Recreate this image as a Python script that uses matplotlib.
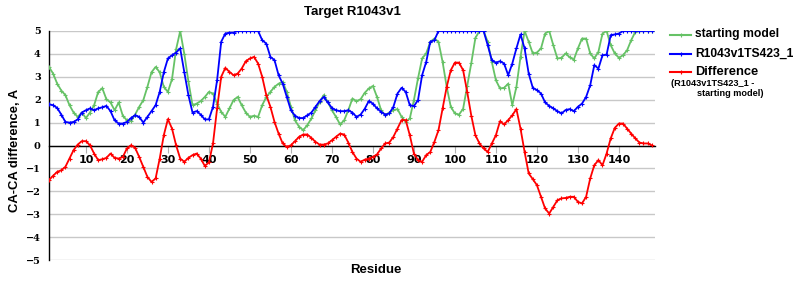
import numpy as np
import matplotlib
matplotlib.use("Agg")
import matplotlib.pyplot as plt
from matplotlib.lines import Line2D

residues = list(range(1, 149))

starting_model = [
    3.43, 3.14, 2.70, 2.40, 2.20, 1.76, 1.44, 1.25, 1.44, 1.20,
    1.44, 1.76, 2.34, 2.50, 2.02, 1.88, 1.54, 1.88, 1.30, 1.10,
    1.06, 1.35, 1.69, 1.98, 2.56, 3.20, 3.43, 3.20, 2.56, 2.34,
    2.90, 4.20, 5.00, 4.00, 2.80, 1.76, 1.83, 1.94, 2.12, 2.34,
    2.27, 1.83, 1.47, 1.25, 1.62, 1.98, 2.12, 1.76, 1.44, 1.25,
    1.30, 1.25, 1.76, 2.12, 2.34, 2.56, 2.70, 2.78, 2.34, 1.69,
    1.10, 0.82, 0.67, 0.89, 1.18, 1.54, 1.90, 2.20, 1.90, 1.54,
    1.25, 0.92, 1.10, 1.54, 2.05, 1.94, 2.02, 2.30, 2.49, 2.60,
    2.12, 1.54, 1.32, 1.44, 1.54, 1.59, 1.25, 1.03, 1.18, 1.98,
    2.93, 3.80, 4.02, 4.53, 4.67, 4.53, 3.65, 2.56, 1.69, 1.40,
    1.35, 1.60, 2.60, 3.60, 4.70, 5.00, 5.00, 4.53, 3.65, 2.85,
    2.49, 2.52, 2.70, 1.76, 2.56, 3.87, 5.00, 4.53, 4.02, 4.06,
    4.24, 4.89, 5.00, 4.38, 3.80, 3.83, 4.02, 3.85, 3.75, 4.24,
    4.67, 4.67, 4.02, 3.80, 4.09, 4.89, 5.00, 4.38, 4.02, 3.83,
    3.94, 4.16, 4.60, 4.96, 5.00, 5.00, 5.00, 5.00,
]

model_ts423 = [
    1.80, 1.76, 1.64, 1.35, 1.03, 1.00, 1.03, 1.14, 1.44, 1.54,
    1.62, 1.54, 1.62, 1.67, 1.73, 1.50, 1.10, 0.96, 0.96, 1.03,
    1.20, 1.32, 1.25, 1.00, 1.25, 1.50, 1.76, 2.34, 3.20, 3.80,
    3.94, 4.06, 4.24, 3.20, 2.20, 1.44, 1.50, 1.35, 1.14, 1.14,
    1.69, 2.85, 4.53, 4.89, 4.93, 4.93, 5.00, 5.00, 5.00, 5.00,
    5.00, 5.00, 4.60, 4.45, 3.87, 3.73, 3.07, 2.70, 2.12, 1.54,
    1.30, 1.20, 1.20, 1.32, 1.44, 1.69, 1.94, 2.12, 1.88, 1.64,
    1.54, 1.50, 1.50, 1.54, 1.44, 1.25, 1.35, 1.60, 1.94, 1.83,
    1.62, 1.47, 1.35, 1.40, 1.69, 2.27, 2.52, 2.34, 1.76, 1.72,
    1.98, 3.07, 3.65, 4.53, 4.60, 5.00, 5.00, 5.00, 5.00, 5.00,
    5.00, 5.00, 5.00, 5.00, 5.00, 5.00, 5.00, 4.38, 3.73, 3.62,
    3.68, 3.58, 3.07, 3.58, 4.24, 4.85, 4.24, 3.14, 2.52, 2.42,
    2.27, 1.88, 1.73, 1.62, 1.50, 1.40, 1.55, 1.59, 1.50, 1.69,
    1.83, 2.12, 2.63, 3.51, 3.36, 3.94, 3.97, 4.82, 4.85, 4.89,
    5.00, 5.00, 5.00, 5.00, 5.00, 5.00, 5.00, 5.00,
]

difference = [
    -1.51, -1.32, -1.15, -1.08, -0.93, -0.57, -0.20, 0.04, 0.19, 0.19,
    0.01, -0.35, -0.64, -0.60, -0.54, -0.35, -0.54, -0.57, -0.50, -0.13,
    0.01, -0.10, -0.50, -0.93, -1.37, -1.59, -1.44, -0.57, 0.45, 1.15,
    0.74, 0.01, -0.57, -0.71, -0.54, -0.42, -0.35, -0.57, -0.89, -0.74,
    0.09, 1.62, 3.00, 3.39, 3.22, 3.07, 3.14, 3.36, 3.68, 3.80,
    3.87, 3.58, 3.00, 2.20, 1.69, 1.03, 0.52, 0.09, -0.06, 0.01,
    0.19, 0.38, 0.48, 0.48, 0.33, 0.16, 0.04, 0.04, 0.09, 0.23,
    0.38, 0.52, 0.48, 0.13, -0.28, -0.57, -0.71, -0.62, -0.57, -0.50,
    -0.39, -0.13, 0.09, 0.13, 0.38, 0.74, 1.11, 1.11, 0.45, -0.35,
    -0.64, -0.71, -0.42, -0.28, 0.16, 0.67, 1.62, 2.56, 3.29, 3.62,
    3.62, 3.29, 2.34, 1.30, 0.45, 0.09, -0.13, -0.28, 0.09, 0.45,
    1.06, 0.92, 1.11, 1.32, 1.59, 0.74, -0.28, -1.22, -1.47, -1.73,
    -2.24, -2.75, -2.97, -2.68, -2.39, -2.31, -2.29, -2.24, -2.24, -2.46,
    -2.53, -2.24, -1.44, -0.86, -0.64, -0.86, -0.35, 0.31, 0.77, 0.96,
    0.96, 0.74, 0.52, 0.31, 0.13, 0.09, 0.09, 0.01,
]

x_ticks = [10, 20, 30, 40, 50, 60, 70, 80, 90, 100, 110, 120, 130, 140]
y_ticks = [-5, -4, -3, -2, -1, 0, 1, 2, 3, 4, 5]

GREEN = "#66c266"
BLUE = "#0000ff"
RED = "#ff0000"

W, H = 800, 300
fig = plt.figure(figsize=(8, 3), dpi=100)
ax = fig.add_axes([49 / W, 40 / H, 606 / W, 229 / H])

for yv in y_ticks:
    ax.axhline(yv, color="#c8c8c8", lw=1.0, zorder=0)

style = dict(lw=1.3, marker="+", ms=3, mew=0.8, zorder=3, clip_on=True)
ax.plot(residues, starting_model, color=GREEN, **style)
ax.plot(residues, model_ts423, color=BLUE, **style)
ax.plot(residues, difference, color=RED, **style)

ax.set_xlim(1, 1 + 606 / 4.1)
ax.set_ylim(-5, 5)

for s in ["top", "right"]:
    ax.spines[s].set_visible(False)
ax.spines["bottom"].set_position(("data", 0))
ax.spines["bottom"].set_color("black")
ax.spines["bottom"].set_linewidth(1.0)
ax.spines["left"].set_color("black")
ax.spines["left"].set_linewidth(1.0)

ax.set_xticks(x_ticks)
ax.set_xticklabels([str(t) for t in x_ticks], fontfamily="DejaVu Sans",
                   fontweight="bold", fontsize=8)
ax.tick_params(axis="x", direction="out", length=5, color="#b0b0b0", pad=2)

ax.set_yticks(y_ticks)
ax.set_yticklabels([("\u2212%d" % -t) if t < 0 else str(t) for t in y_ticks],
                   fontfamily="DejaVu Serif", fontweight="bold", fontsize=7)
ax.tick_params(axis="y", length=0, pad=6)

lab = dict(fontfamily="Liberation Sans", fontweight="bold")
fig.text(352 / W, 1 - 12 / H, "Target R1043v1", ha="center", va="center",
         fontsize=9.5, **lab)
fig.text(376 / W, 1 - 270 / H, "Residue", ha="center", va="center",
         fontsize=9.5, **lab)
fig.text(15 / W, 1 - 150 / H, "CA-CA difference, A", ha="center", va="center",
         rotation=90, fontsize=9.4, **lab)

# legend
entries = [(GREEN, 34.5, "starting model", 8.7),
           (BLUE, 54, "R1043v1TS423_1", 8.7),
           (RED, 72, "Difference", 9.3)]
for col, yp, txt, fs in entries:
    yy = 1 - yp / H
    fig.add_artist(Line2D([670 / W, 691 / W], [yy, yy], color=col, lw=1.5,
                          transform=fig.transFigure))
    fig.add_artist(Line2D([680.5 / W], [yy], color=col, marker="+", ms=3,
                          mew=0.8, transform=fig.transFigure))
    fig.text(695 / W, yy, txt, ha="left", va="center", fontsize=fs, **lab)
fig.text(671 / W, 1 - 84 / H, "(R1043v1TS423_1 -", ha="left", va="center",
         fontsize=6.6, **lab)
fig.text(697 / W, 1 - 94 / H, "starting model)", ha="left", va="center",
         fontsize=6.6, **lab)

fig.savefig("out.png", dpi=100, facecolor="white")
